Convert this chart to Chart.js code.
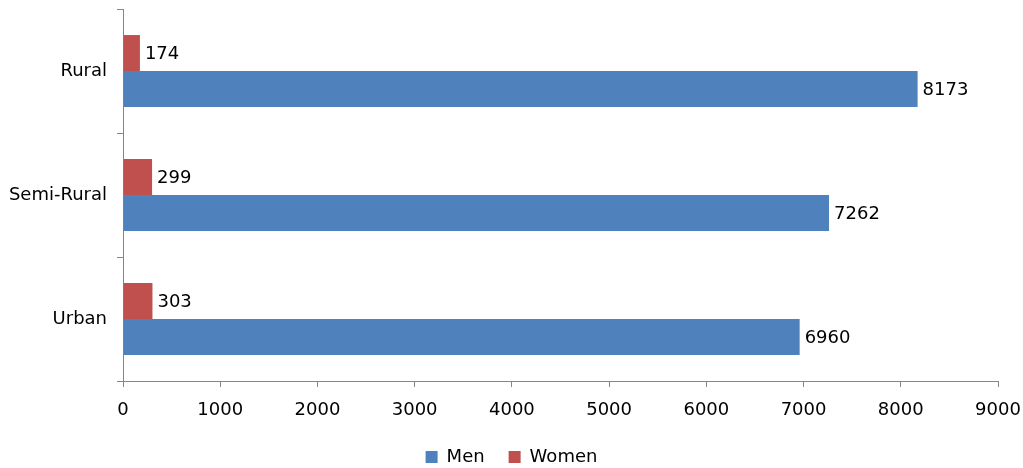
<!DOCTYPE html>
<html>
<head>
<meta charset="utf-8">
<script src="https://cdn.jsdelivr.net/npm/chart.js@4.4.1/dist/chart.umd.min.js"></script>
<style>
  html, body { margin: 0; padding: 0; background: #fff; }
  #wrap { width: 1023px; height: 468px; position: relative; }
</style>
</head>
<body>
<div id="wrap"><canvas id="c"></canvas></div>
<script>
const categories = ["Rural", "Semi-Rural", "Urban"];
const menValues = [8173, 7262, 6960];
const womenValues = [174, 299, 303];
const seriesNames = ["Men", "Women"];
const xMin = 0, xMax = 9000, xStep = 1000;

const FONT = "'DejaVu Sans', sans-serif";
const AXIS_COLOR = "#868686";

const valueLabels = {
  id: "valueLabels",
  afterDatasetsDraw(chart) {
    const ctx = chart.ctx;
    ctx.save();
    ctx.font = "18px " + FONT;
    ctx.fillStyle = "#000";
    ctx.textAlign = "left";
    ctx.textBaseline = "middle";
    chart.data.datasets.forEach((ds, i) => {
      const meta = chart.getDatasetMeta(i);
      meta.data.forEach((el, j) => {
        ctx.fillText(String(ds.data[j]), el.x + 5, el.y + 1);
      });
    });
    ctx.restore();
  }
};

new Chart(document.getElementById("c"), {
  type: "bar",
  data: {
    labels: categories,
    datasets: [
      { label: seriesNames[1], data: womenValues, backgroundColor: "#C0504D", borderWidth: 0 },
      { label: seriesNames[0], data: menValues, backgroundColor: "#4F81BD", borderWidth: 0 }
    ]
  },
  options: {
    indexAxis: "y",
    responsive: true,
    maintainAspectRatio: false,
    animation: false,
    devicePixelRatio: 1,
    layout: { padding: { top: 9, right: 0, left: 0, bottom: 0 } },
    datasets: { bar: { categoryPercentage: 0.58, barPercentage: 1.0 } },
    scales: {
      x: {
        min: xMin, max: xMax,
        ticks: { stepSize: xStep, color: "#000", font: { family: FONT, size: 18 }, padding: 13, maxRotation: 0,
                 autoSkip: false, callback: (v) => String(v) },
        grid: { drawOnChartArea: false, drawTicks: true, tickLength: 6, color: AXIS_COLOR },
        border: { display: true, color: AXIS_COLOR, width: 1 },
        afterFit(s) { s.height = 43; s.paddingLeft = 0; s.paddingRight = 25; }
      },
      y: {
        ticks: { color: "#000", font: { family: FONT, size: 18 }, padding: 10 },
        grid: { drawOnChartArea: false, drawTicks: true, tickLength: 6, color: AXIS_COLOR, offset: true },
        border: { display: true, color: AXIS_COLOR, width: 1 },
        afterFit(s) { s.width = 123; s.paddingTop = 0; s.paddingBottom = 0; }
      }
    },
    plugins: {
      legend: {
        position: "bottom",
        maxHeight: 44,
        labels: {
          boxWidth: 12, boxHeight: 12, padding: 24,
          color: "#000",
          font: { family: FONT, size: 18 },
          sort: (a, b) => b.datasetIndex - a.datasetIndex
        }
      },
      tooltip: { enabled: false }
    }
  },
  plugins: [valueLabels]
});
</script>
</body>
</html>
